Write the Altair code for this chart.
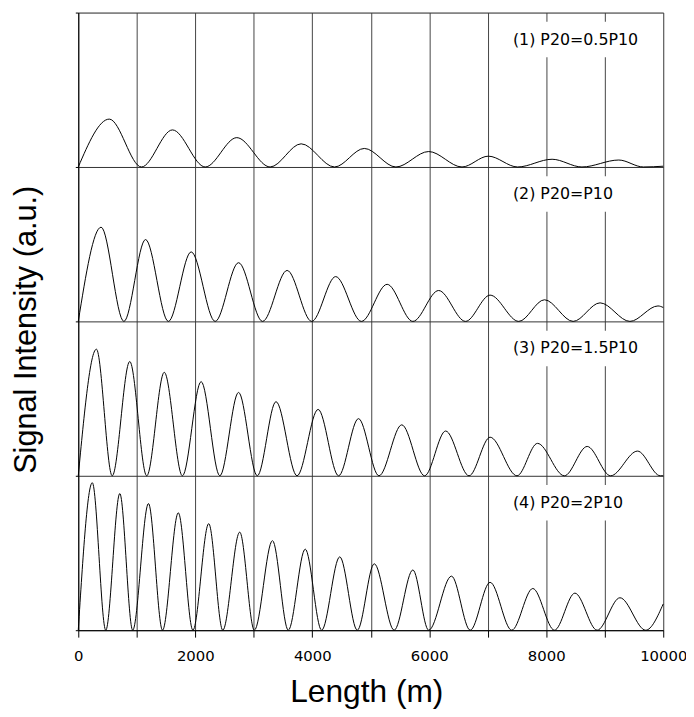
import altair as alt
import pandas as pd

# ---- data (x in m, y as fraction of panel height) ----
p1_x = [0, 530, 1080, 1610, 2170, 2710, 3280, 3810, 4380, 4890, 5430, 5990, 6560,
        7010, 7510, 8100, 8610, 9240, 9660, 10000]
p1_y = [0, .31, 0, .24, 0, .19, 0, .15, 0, .12, 0, .10, 0, .07, 0, .05, 0, .045, 0, .005]

p2_x = [0, 390, 780, 1150, 1540, 1930, 2340, 2740, 3150, 3570, 3990, 4400, 4840,
        5280, 5720, 6160, 6620, 7040, 7530, 7970, 8460, 8920, 9430, 9910, 10000]
p2_y = [0, .61, 0, .53, 0, .45, 0, .38, 0, .33, 0, .29, 0, .24, 0, .20, 0, .17, 0,
        .14, 0, .12, 0, .10, .09]

p3_x = [0, 310, 580, 880, 1170, 1470, 1780, 2100, 2420, 2740, 3060, 3380, 3740,
        4100, 4450, 4790, 5140, 5530, 5920, 6280, 6680, 7040, 7500, 7850, 8310,
        8700, 9100, 9560, 9950, 10000]
p3_y = [0, .82, 0, .74, 0, .67, 0, .61, 0, .54, 0, .48, 0, .43, 0, .37, 0, .33, 0,
        .29, 0, .25, 0, .21, 0, .19, 0, .16, 0, 0]

p4_x = [0, 240, 470, 710, 930, 1200, 1440, 1710, 1960, 2230, 2470, 2760, 3010, 3320,
        3590, 3880, 4160, 4470, 4770, 5060, 5400, 5720, 5990, 6380, 6700, 7040,
        7410, 7770, 8140, 8490, 8870, 9260, 9700, 10000]
p4_y = [0, .955, 0, .885, 0, .82, 0, .76, 0, .69, 0, .635, 0, .58, 0, .525, 0, .475,
        0, .43, 0, .39, 0, .35, 0, .31, 0, .27, 0, .24, 0, .21, 0, .17]

panel_labels = ["(1) P20=0.5P10", "(2) P20=P10", "(3) P20=1.5P10", "(4) P20=2P10"]
x_ticks = list(range(0, 10001, 1000))
panel_bounds = [0, 1, 2, 3, 4]

rows = []
for k, (xs, ys) in enumerate([(p1_x, p1_y), (p2_x, p2_y), (p3_x, p3_y), (p4_x, p4_y)], start=1):
    for xv, yv in zip(xs, ys):
        rows.append({"panel": k, "x": xv, "y": yv})
curves = pd.DataFrame(rows)
labels = pd.DataFrame({"panel": [1, 2, 3, 4], "text": panel_labels})

x_scale = alt.Scale(domain=[0, 10000], nice=False, zero=False)
y_scale = alt.Scale(domain=[0, 4], nice=False, zero=False)

x_axis = alt.Axis(
    values=x_ticks, format="d",
    labelExpr="datum.value % 2000 === 0 ? datum.label : ''",
    labelOverlap=False, labelFlush=False,
    grid=True, gridColor="#444", gridWidth=1,
    tickSize=7, tickColor="black", domainColor="black",
    labelFont="DejaVu Sans", labelFontSize=15, labelColor="black", labelPadding=12,
    title="Length (m)", titleFont="Liberation Sans", titleFontSize=32,
    titleFontWeight="normal", titleColor="black",
    titleX=291, titleY=72, titleBaseline="alphabetic",
)
y_axis = alt.Axis(
    values=panel_bounds, labels=False,
    grid=True, gridColor="#333", gridWidth=1,
    tickSize=3, tickColor="black", domainColor="black",
    title="Signal Intensity (a.u.)", titleFont="Liberation Sans", titleFontSize=31,
    titleFontWeight="normal", titleColor="black",
    titleX=-43, titleY=320, titleBaseline="alphabetic", titleAngle=270,
)

lines = alt.Chart(curves).transform_calculate(
    yy="datum.y + 4 - datum.panel"
).mark_line(interpolate="monotone", color="black", strokeWidth=1).encode(
    x=alt.X("x:Q", scale=x_scale, axis=x_axis),
    y=alt.Y("yy:Q", scale=y_scale, axis=y_axis),
    detail="panel:N",
)

lab_base = alt.Chart(labels).transform_calculate(
    lx="7430", ly="5 - datum.panel - 0.175",
    bx1="7300", bx2="9830",
    by1="5 - datum.panel - 0.175 - 0.115", by2="5 - datum.panel - 0.175 + 0.115",
)

boxes = lab_base.mark_rect(color="white").encode(
    x=alt.X("bx1:Q", scale=x_scale), x2="bx2:Q",
    y=alt.Y("by1:Q", scale=y_scale), y2="by2:Q",
)

texts = lab_base.mark_text(
    align="left", baseline="middle", font="DejaVu Sans", fontSize=16, color="black"
).encode(
    x=alt.X("lx:Q", scale=x_scale),
    y=alt.Y("ly:Q", scale=y_scale),
    text="text:N",
)

chart = alt.layer(lines, boxes, texts).properties(
    width=591, height=624,
    autosize=alt.AutoSizeParams(type="none"),
    padding={"left": 71, "top": 1, "right": 23, "bottom": 76},
).configure_view(stroke=None).configure(background="white")

chart.save("out.html", embed_options={"renderer": "svg", "actions": False})
